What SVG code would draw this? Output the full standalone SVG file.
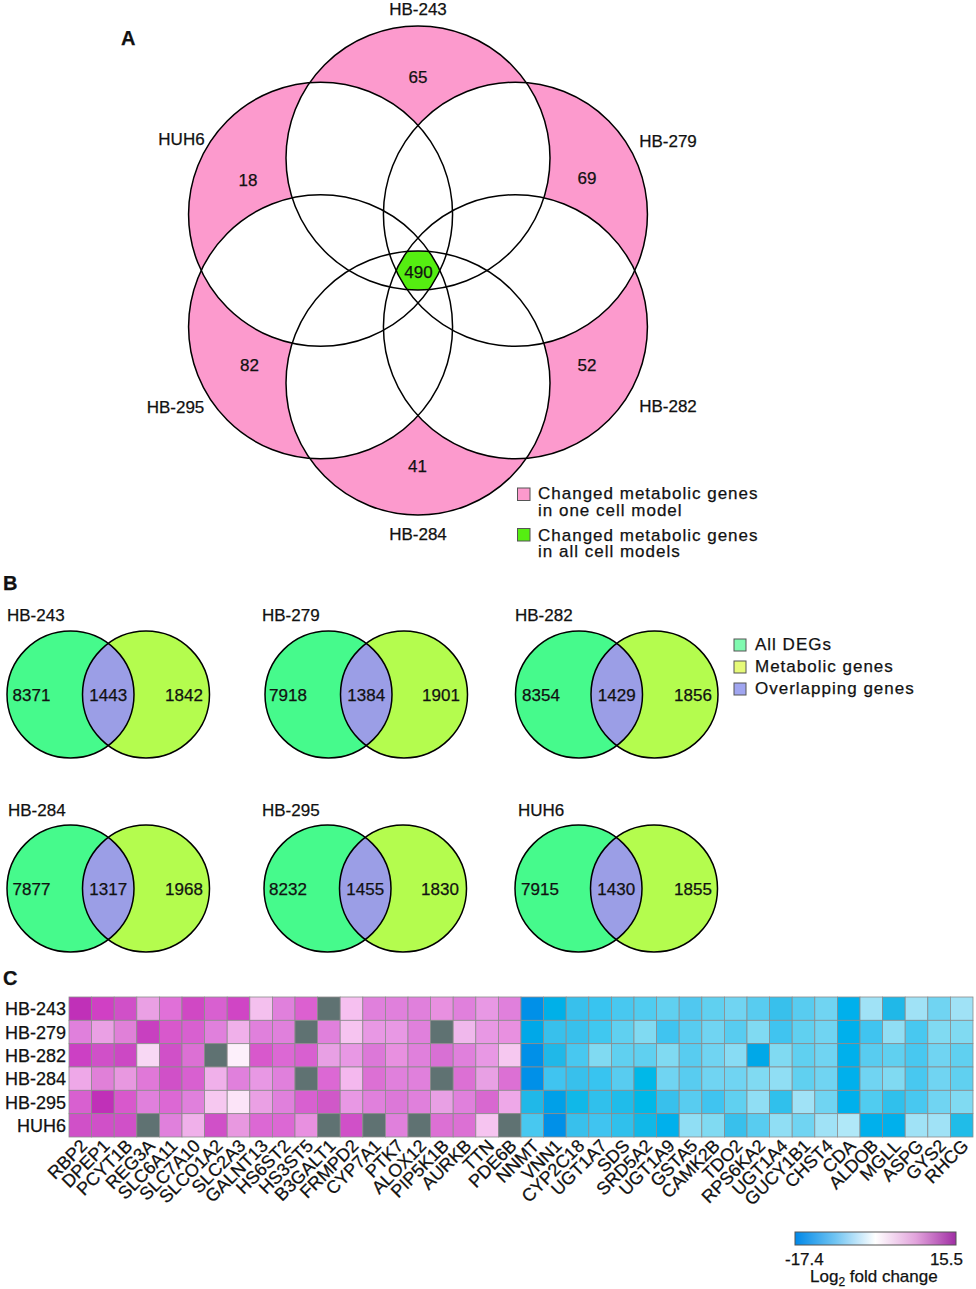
<svg xmlns="http://www.w3.org/2000/svg" width="976" height="1289" viewBox="0 0 976 1289">
<style>
text{font-family:"Liberation Sans",Arial,sans-serif;fill:#111;stroke:#111;stroke-width:0.25}
.pl{font-size:20px;font-weight:bold}
.lb{font-size:17px}
.mid{text-anchor:middle}
.num{font-size:17px;text-anchor:middle}
.leg{font-size:17px;letter-spacing:1px}
.row{font-size:18px;text-anchor:end}
.col{font-size:18px;text-anchor:end}
.ol{fill:none;stroke:#000;stroke-width:1.5}
.hm rect{stroke:#8c8c8c;stroke-width:0.8}
.cL{fill:#46fa8c}
.cR{fill:#b4fc4e}
.lens{fill:#9b9ee6}
.sq{stroke:#555;stroke-width:1}
</style>
<defs>
<clipPath id="a0"><circle cx="418" cy="158" r="132"/></clipPath>
<clipPath id="a1"><circle cx="515.43" cy="214.25" r="132"/></clipPath>
<clipPath id="a2"><circle cx="515.43" cy="326.75" r="132"/></clipPath>
<clipPath id="a3"><circle cx="418" cy="383" r="132"/></clipPath>
<clipPath id="a4"><circle cx="320.57" cy="326.75" r="132"/></clipPath>
<clipPath id="a5"><circle cx="320.57" cy="214.25" r="132"/></clipPath>
<linearGradient id="cb" x1="0" y1="0" x2="1" y2="0">
<stop offset="0" stop-color="#0088e8"/>
<stop offset="0.25" stop-color="#70c4f2"/>
<stop offset="0.5" stop-color="#ffffff"/>
<stop offset="0.75" stop-color="#e2a4dc"/>
<stop offset="1" stop-color="#a02ea4"/>
</linearGradient>
<g id="vb">
<circle class="cL" cx="0" cy="0" r="63.5"/>
<circle class="cR" cx="75.5" cy="0" r="63.5"/>
<path class="lens" d="M37.75,-51.06 A63.5,63.5 0 0 1 37.75,51.06 A63.5,63.5 0 0 1 37.75,-51.06 Z"/>
<circle class="ol" cx="0" cy="0" r="63.5"/>
<circle class="ol" cx="75.5" cy="0" r="63.5"/>
</g>
</defs>
<rect width="976" height="1289" fill="#fff"/>

<!-- Panel A -->
<text class="pl" x="121" y="45">A</text>
<g id="venn-a">
<g fill="#fc9acd">
<circle cx="418" cy="158" r="132"/>
<circle cx="515.43" cy="214.25" r="132"/>
<circle cx="515.43" cy="326.75" r="132"/>
<circle cx="418" cy="383" r="132"/>
<circle cx="320.57" cy="326.75" r="132"/>
<circle cx="320.57" cy="214.25" r="132"/>
</g>
<g fill="#fff">
<g clip-path="url(#a0)">
<circle cx="515.43" cy="214.25" r="132"/><circle cx="515.43" cy="326.75" r="132"/><circle cx="418" cy="383" r="132"/><circle cx="320.57" cy="326.75" r="132"/><circle cx="320.57" cy="214.25" r="132"/>
</g>
<g clip-path="url(#a1)">
<circle cx="515.43" cy="326.75" r="132"/><circle cx="418" cy="383" r="132"/><circle cx="320.57" cy="326.75" r="132"/><circle cx="320.57" cy="214.25" r="132"/>
</g>
<g clip-path="url(#a2)">
<circle cx="418" cy="383" r="132"/><circle cx="320.57" cy="326.75" r="132"/><circle cx="320.57" cy="214.25" r="132"/>
</g>
<g clip-path="url(#a3)">
<circle cx="320.57" cy="326.75" r="132"/><circle cx="320.57" cy="214.25" r="132"/>
</g>
<g clip-path="url(#a4)">
<circle cx="320.57" cy="214.25" r="132"/>
</g>
</g>
<g id="core" clip-path="url(#a0)"><g clip-path="url(#a1)"><g clip-path="url(#a2)"><g clip-path="url(#a3)"><g clip-path="url(#a4)"><g clip-path="url(#a5)">
<rect x="370" y="220" width="100" height="100" fill="#55ee11"/>
</g></g></g></g></g></g>
<g class="ol">
<circle cx="418" cy="158" r="132"/>
<circle cx="515.43" cy="214.25" r="132"/>
<circle cx="515.43" cy="326.75" r="132"/>
<circle cx="418" cy="383" r="132"/>
<circle cx="320.57" cy="326.75" r="132"/>
<circle cx="320.57" cy="214.25" r="132"/>
</g>
</g>
<g id="venn-a-labels">
<text class="lb mid" x="418" y="15">HB-243</text>
<text class="lb mid" x="668" y="147">HB-279</text>
<text class="lb mid" x="668" y="411.5">HB-282</text>
<text class="lb mid" x="418" y="540">HB-284</text>
<text class="lb mid" x="175.5" y="412.5">HB-295</text>
<text class="lb mid" x="181.5" y="145">HUH6</text>
<text class="num" x="418" y="83.3">65</text>
<text class="num" x="587" y="184">69</text>
<text class="num" x="587" y="370.5">52</text>
<text class="num" x="417.5" y="472">41</text>
<text class="num" x="249.5" y="371">82</text>
<text class="num" x="248" y="186">18</text>
<text class="num" x="418.5" y="278">490</text>
</g>
<g id="legend-a">
<rect class="sq" x="517.5" y="488" width="12.5" height="12.5" fill="#fc9acd"/>
<text class="leg" x="538" y="499.3">Changed metabolic genes<tspan x="538" dy="16.4">in one cell model</tspan></text>
<rect class="sq" x="517.5" y="528.5" width="12.5" height="12.5" fill="#55ee11"/>
<text class="leg" x="538" y="540.7">Changed metabolic genes<tspan x="538" dy="15.8">in all cell models</tspan></text>
</g>

<!-- Panel B -->
<text class="pl" x="3" y="590">B</text>
<g id="vb-hb243">
<use href="#vb" transform="translate(70.5,694.5)"/>
<text class="lb" x="7" y="621">HB-243</text>
<text class="num" x="31.5" y="701">8371</text>
<text class="num" x="108.25" y="701">1443</text>
<text class="num" x="184" y="701">1842</text>
</g>
<g id="vb-hb279">
<use href="#vb" transform="translate(328.5,694.5)"/>
<text class="lb" x="262" y="621">HB-279</text>
<text class="num" x="288" y="701">7918</text>
<text class="num" x="366.25" y="701">1384</text>
<text class="num" x="441" y="701">1901</text>
</g>
<g id="vb-hb282">
<use href="#vb" transform="translate(579,694.5)"/>
<text class="lb" x="515" y="621">HB-282</text>
<text class="num" x="541" y="701">8354</text>
<text class="num" x="616.75" y="701">1429</text>
<text class="num" x="693" y="701">1856</text>
</g>
<g id="vb-hb284">
<use href="#vb" transform="translate(70.5,888.5)"/>
<text class="lb" x="8" y="816">HB-284</text>
<text class="num" x="31.5" y="895">7877</text>
<text class="num" x="108.25" y="895">1317</text>
<text class="num" x="184" y="895">1968</text>
</g>
<g id="vb-hb295">
<use href="#vb" transform="translate(327.5,888.5)"/>
<text class="lb" x="262" y="816">HB-295</text>
<text class="num" x="288" y="895">8232</text>
<text class="num" x="365.25" y="895">1455</text>
<text class="num" x="440" y="895">1830</text>
</g>
<g id="vb-huh6">
<use href="#vb" transform="translate(578.5,888.5)"/>
<text class="lb" x="518" y="816">HUH6</text>
<text class="num" x="540" y="895">7915</text>
<text class="num" x="616.25" y="895">1430</text>
<text class="num" x="693" y="895">1855</text>
</g>
<g id="legend-b">
<rect class="sq" x="734" y="639" width="12" height="12" fill="#80fab0"/>
<text class="leg" x="755" y="650">All DEGs</text>
<rect class="sq" x="734" y="661" width="12" height="12" fill="#e6fa78"/>
<text class="leg" x="755" y="672">Metabolic genes</text>
<rect class="sq" x="734" y="683" width="12" height="12" fill="#a0a5f0"/>
<text class="leg" x="755" y="694">Overlapping genes</text>
</g>

<!-- Panel C -->
<text class="pl" x="3" y="985">C</text>
<g id="row-labels">
<text class="row" x="66" y="1015.2">HB-243</text>
<text class="row" x="66" y="1038.5">HB-279</text>
<text class="row" x="66" y="1061.8">HB-282</text>
<text class="row" x="66" y="1085.2">HB-284</text>
<text class="row" x="66" y="1108.5">HB-295</text>
<text class="row" x="66" y="1131.8">HUH6</text>
</g>
<g id="heatmap" class="hm">
<g transform="translate(0,997)">
<rect x="69" y="0" width="22.6" height="23.33" fill="#c030b8"/>
<rect x="91.6" y="0" width="22.6" height="23.33" fill="#d040c4"/>
<rect x="114.2" y="0" width="22.6" height="23.33" fill="#d050c8"/>
<rect x="136.8" y="0" width="22.6" height="23.33" fill="#eaa0e4"/>
<rect x="159.4" y="0" width="22.6" height="23.33" fill="#e070d8"/>
<rect x="182" y="0" width="22.6" height="23.33" fill="#d048c4"/>
<rect x="204.6" y="0" width="22.6" height="23.33" fill="#d860d0"/>
<rect x="227.2" y="0" width="22.6" height="23.33" fill="#d045c5"/>
<rect x="249.8" y="0" width="22.6" height="23.33" fill="#f4c0ee"/>
<rect x="272.4" y="0" width="22.6" height="23.33" fill="#e080dc"/>
<rect x="295" y="0" width="22.6" height="23.33" fill="#dc60d0"/>
<rect x="317.6" y="0" width="22.6" height="23.33" fill="#5f7272"/>
<rect x="340.2" y="0" width="22.6" height="23.33" fill="#f6c0f0"/>
<rect x="362.8" y="0" width="22.6" height="23.33" fill="#e080dc"/>
<rect x="385.4" y="0" width="22.6" height="23.33" fill="#e080dc"/>
<rect x="408" y="0" width="22.6" height="23.33" fill="#e080dc"/>
<rect x="430.6" y="0" width="22.6" height="23.33" fill="#e890e0"/>
<rect x="453.2" y="0" width="22.6" height="23.33" fill="#e080dc"/>
<rect x="475.8" y="0" width="22.6" height="23.33" fill="#e898e4"/>
<rect x="498.4" y="0" width="22.6" height="23.33" fill="#e080dc"/>
<rect x="521" y="0" width="22.6" height="23.33" fill="#0090e8"/>
<rect x="543.6" y="0" width="22.6" height="23.33" fill="#00b0e8"/>
<rect x="566.2" y="0" width="22.6" height="23.33" fill="#38c0ec"/>
<rect x="588.8" y="0" width="22.6" height="23.33" fill="#38c4f0"/>
<rect x="611.4" y="0" width="22.6" height="23.33" fill="#48c8f0"/>
<rect x="634" y="0" width="22.6" height="23.33" fill="#50ccf0"/>
<rect x="656.6" y="0" width="22.6" height="23.33" fill="#60d0f0"/>
<rect x="679.2" y="0" width="22.6" height="23.33" fill="#50c8f0"/>
<rect x="701.8" y="0" width="22.6" height="23.33" fill="#60d0f0"/>
<rect x="724.4" y="0" width="22.6" height="23.33" fill="#70d4f2"/>
<rect x="747" y="0" width="22.6" height="23.33" fill="#58ccf0"/>
<rect x="769.6" y="0" width="22.6" height="23.33" fill="#38c0ec"/>
<rect x="792.2" y="0" width="22.6" height="23.33" fill="#58ccf0"/>
<rect x="814.8" y="0" width="22.6" height="23.33" fill="#70d4f2"/>
<rect x="837.4" y="0" width="22.6" height="23.33" fill="#00b0ec"/>
<rect x="860" y="0" width="22.6" height="23.33" fill="#a0e2f6"/>
<rect x="882.6" y="0" width="22.6" height="23.33" fill="#20b8e8"/>
<rect x="905.2" y="0" width="22.6" height="23.33" fill="#a0e2f6"/>
<rect x="927.8" y="0" width="22.6" height="23.33" fill="#70d4f2"/>
<rect x="950.4" y="0" width="22.6" height="23.33" fill="#a0e2f6"/>
</g>
<g transform="translate(0,1020.33)">
<rect x="69" y="0" width="22.6" height="23.33" fill="#e080dc"/>
<rect x="91.6" y="0" width="22.6" height="23.33" fill="#eaa0e4"/>
<rect x="114.2" y="0" width="22.6" height="23.33" fill="#e080d8"/>
<rect x="136.8" y="0" width="22.6" height="23.33" fill="#c840c0"/>
<rect x="159.4" y="0" width="22.6" height="23.33" fill="#d858cc"/>
<rect x="182" y="0" width="22.6" height="23.33" fill="#d860d0"/>
<rect x="204.6" y="0" width="22.6" height="23.33" fill="#e080dc"/>
<rect x="227.2" y="0" width="22.6" height="23.33" fill="#f0b0ea"/>
<rect x="249.8" y="0" width="22.6" height="23.33" fill="#e080dc"/>
<rect x="272.4" y="0" width="22.6" height="23.33" fill="#e080dc"/>
<rect x="295" y="0" width="22.6" height="23.33" fill="#5f7272"/>
<rect x="317.6" y="0" width="22.6" height="23.33" fill="#e080dc"/>
<rect x="340.2" y="0" width="22.6" height="23.33" fill="#f6c4f0"/>
<rect x="362.8" y="0" width="22.6" height="23.33" fill="#e898e4"/>
<rect x="385.4" y="0" width="22.6" height="23.33" fill="#e898e4"/>
<rect x="408" y="0" width="22.6" height="23.33" fill="#e080dc"/>
<rect x="430.6" y="0" width="22.6" height="23.33" fill="#5f7272"/>
<rect x="453.2" y="0" width="22.6" height="23.33" fill="#f0b8ec"/>
<rect x="475.8" y="0" width="22.6" height="23.33" fill="#e898e4"/>
<rect x="498.4" y="0" width="22.6" height="23.33" fill="#e890e0"/>
<rect x="521" y="0" width="22.6" height="23.33" fill="#00a8e8"/>
<rect x="543.6" y="0" width="22.6" height="23.33" fill="#38c0ec"/>
<rect x="566.2" y="0" width="22.6" height="23.33" fill="#38c0ec"/>
<rect x="588.8" y="0" width="22.6" height="23.33" fill="#40c8f0"/>
<rect x="611.4" y="0" width="22.6" height="23.33" fill="#60d0f0"/>
<rect x="634" y="0" width="22.6" height="23.33" fill="#80daf2"/>
<rect x="656.6" y="0" width="22.6" height="23.33" fill="#40c4f0"/>
<rect x="679.2" y="0" width="22.6" height="23.33" fill="#58ccf0"/>
<rect x="701.8" y="0" width="22.6" height="23.33" fill="#70d4f2"/>
<rect x="724.4" y="0" width="22.6" height="23.33" fill="#58ccf0"/>
<rect x="747" y="0" width="22.6" height="23.33" fill="#80daf2"/>
<rect x="769.6" y="0" width="22.6" height="23.33" fill="#40c4f0"/>
<rect x="792.2" y="0" width="22.6" height="23.33" fill="#60d0f0"/>
<rect x="814.8" y="0" width="22.6" height="23.33" fill="#70d4f2"/>
<rect x="837.4" y="0" width="22.6" height="23.33" fill="#00b0ec"/>
<rect x="860" y="0" width="22.6" height="23.33" fill="#40c4f0"/>
<rect x="882.6" y="0" width="22.6" height="23.33" fill="#90def4"/>
<rect x="905.2" y="0" width="22.6" height="23.33" fill="#48c8f0"/>
<rect x="927.8" y="0" width="22.6" height="23.33" fill="#80daf2"/>
<rect x="950.4" y="0" width="22.6" height="23.33" fill="#80daf2"/>
</g>
<g transform="translate(0,1043.67)">
<rect x="69" y="0" width="22.6" height="23.33" fill="#cc40c4"/>
<rect x="91.6" y="0" width="22.6" height="23.33" fill="#d050c8"/>
<rect x="114.2" y="0" width="22.6" height="23.33" fill="#cc48c4"/>
<rect x="136.8" y="0" width="22.6" height="23.33" fill="#f8d8f4"/>
<rect x="159.4" y="0" width="22.6" height="23.33" fill="#d050c8"/>
<rect x="182" y="0" width="22.6" height="23.33" fill="#dc70d4"/>
<rect x="204.6" y="0" width="22.6" height="23.33" fill="#5f7272"/>
<rect x="227.2" y="0" width="22.6" height="23.33" fill="#fdf0fb"/>
<rect x="249.8" y="0" width="22.6" height="23.33" fill="#d858cc"/>
<rect x="272.4" y="0" width="22.6" height="23.33" fill="#dc68d4"/>
<rect x="295" y="0" width="22.6" height="23.33" fill="#d860d0"/>
<rect x="317.6" y="0" width="22.6" height="23.33" fill="#e8a0e4"/>
<rect x="340.2" y="0" width="22.6" height="23.33" fill="#e898e4"/>
<rect x="362.8" y="0" width="22.6" height="23.33" fill="#dc78d8"/>
<rect x="385.4" y="0" width="22.6" height="23.33" fill="#e890e0"/>
<rect x="408" y="0" width="22.6" height="23.33" fill="#e080dc"/>
<rect x="430.6" y="0" width="22.6" height="23.33" fill="#d870d4"/>
<rect x="453.2" y="0" width="22.6" height="23.33" fill="#e080dc"/>
<rect x="475.8" y="0" width="22.6" height="23.33" fill="#e898e4"/>
<rect x="498.4" y="0" width="22.6" height="23.33" fill="#f6c8f0"/>
<rect x="521" y="0" width="22.6" height="23.33" fill="#0090e8"/>
<rect x="543.6" y="0" width="22.6" height="23.33" fill="#20b8e8"/>
<rect x="566.2" y="0" width="22.6" height="23.33" fill="#48c8f0"/>
<rect x="588.8" y="0" width="22.6" height="23.33" fill="#80daf2"/>
<rect x="611.4" y="0" width="22.6" height="23.33" fill="#60d0f0"/>
<rect x="634" y="0" width="22.6" height="23.33" fill="#60d0f0"/>
<rect x="656.6" y="0" width="22.6" height="23.33" fill="#80daf2"/>
<rect x="679.2" y="0" width="22.6" height="23.33" fill="#58ccf0"/>
<rect x="701.8" y="0" width="22.6" height="23.33" fill="#70d4f2"/>
<rect x="724.4" y="0" width="22.6" height="23.33" fill="#88dcf4"/>
<rect x="747" y="0" width="22.6" height="23.33" fill="#00a8e8"/>
<rect x="769.6" y="0" width="22.6" height="23.33" fill="#80daf2"/>
<rect x="792.2" y="0" width="22.6" height="23.33" fill="#60d0f0"/>
<rect x="814.8" y="0" width="22.6" height="23.33" fill="#70d4f2"/>
<rect x="837.4" y="0" width="22.6" height="23.33" fill="#00b0ec"/>
<rect x="860" y="0" width="22.6" height="23.33" fill="#58ccf0"/>
<rect x="882.6" y="0" width="22.6" height="23.33" fill="#60d0f0"/>
<rect x="905.2" y="0" width="22.6" height="23.33" fill="#48c8f0"/>
<rect x="927.8" y="0" width="22.6" height="23.33" fill="#70d4f2"/>
<rect x="950.4" y="0" width="22.6" height="23.33" fill="#60d0f0"/>
</g>
<g transform="translate(0,1067)">
<rect x="69" y="0" width="22.6" height="23.33" fill="#eea8e8"/>
<rect x="91.6" y="0" width="22.6" height="23.33" fill="#e080d8"/>
<rect x="114.2" y="0" width="22.6" height="23.33" fill="#e898e0"/>
<rect x="136.8" y="0" width="22.6" height="23.33" fill="#e078d8"/>
<rect x="159.4" y="0" width="22.6" height="23.33" fill="#d050c8"/>
<rect x="182" y="0" width="22.6" height="23.33" fill="#d860d0"/>
<rect x="204.6" y="0" width="22.6" height="23.33" fill="#f0b0ea"/>
<rect x="227.2" y="0" width="22.6" height="23.33" fill="#e080dc"/>
<rect x="249.8" y="0" width="22.6" height="23.33" fill="#e898e4"/>
<rect x="272.4" y="0" width="22.6" height="23.33" fill="#e080dc"/>
<rect x="295" y="0" width="22.6" height="23.33" fill="#5f7272"/>
<rect x="317.6" y="0" width="22.6" height="23.33" fill="#dc68d4"/>
<rect x="340.2" y="0" width="22.6" height="23.33" fill="#f4b8ee"/>
<rect x="362.8" y="0" width="22.6" height="23.33" fill="#dc70d4"/>
<rect x="385.4" y="0" width="22.6" height="23.33" fill="#e080dc"/>
<rect x="408" y="0" width="22.6" height="23.33" fill="#e080dc"/>
<rect x="430.6" y="0" width="22.6" height="23.33" fill="#5f7272"/>
<rect x="453.2" y="0" width="22.6" height="23.33" fill="#dc70d4"/>
<rect x="475.8" y="0" width="22.6" height="23.33" fill="#e8a0e4"/>
<rect x="498.4" y="0" width="22.6" height="23.33" fill="#dc70d4"/>
<rect x="521" y="0" width="22.6" height="23.33" fill="#0090e8"/>
<rect x="543.6" y="0" width="22.6" height="23.33" fill="#40c4f0"/>
<rect x="566.2" y="0" width="22.6" height="23.33" fill="#38c0ec"/>
<rect x="588.8" y="0" width="22.6" height="23.33" fill="#38c4f0"/>
<rect x="611.4" y="0" width="22.6" height="23.33" fill="#58ccf0"/>
<rect x="634" y="0" width="22.6" height="23.33" fill="#00b8e8"/>
<rect x="656.6" y="0" width="22.6" height="23.33" fill="#70d4f2"/>
<rect x="679.2" y="0" width="22.6" height="23.33" fill="#58ccf0"/>
<rect x="701.8" y="0" width="22.6" height="23.33" fill="#70d4f2"/>
<rect x="724.4" y="0" width="22.6" height="23.33" fill="#70d4f2"/>
<rect x="747" y="0" width="22.6" height="23.33" fill="#80daf2"/>
<rect x="769.6" y="0" width="22.6" height="23.33" fill="#90def4"/>
<rect x="792.2" y="0" width="22.6" height="23.33" fill="#60d0f0"/>
<rect x="814.8" y="0" width="22.6" height="23.33" fill="#70d4f2"/>
<rect x="837.4" y="0" width="22.6" height="23.33" fill="#00b0ec"/>
<rect x="860" y="0" width="22.6" height="23.33" fill="#70d4f2"/>
<rect x="882.6" y="0" width="22.6" height="23.33" fill="#80daf2"/>
<rect x="905.2" y="0" width="22.6" height="23.33" fill="#48c8f0"/>
<rect x="927.8" y="0" width="22.6" height="23.33" fill="#70d4f2"/>
<rect x="950.4" y="0" width="22.6" height="23.33" fill="#60d0f0"/>
</g>
<g transform="translate(0,1090.33)">
<rect x="69" y="0" width="22.6" height="23.33" fill="#d860d0"/>
<rect x="91.6" y="0" width="22.6" height="23.33" fill="#c030b8"/>
<rect x="114.2" y="0" width="22.6" height="23.33" fill="#d858cc"/>
<rect x="136.8" y="0" width="22.6" height="23.33" fill="#e080dc"/>
<rect x="159.4" y="0" width="22.6" height="23.33" fill="#dc68d4"/>
<rect x="182" y="0" width="22.6" height="23.33" fill="#e080dc"/>
<rect x="204.6" y="0" width="22.6" height="23.33" fill="#f6c8f0"/>
<rect x="227.2" y="0" width="22.6" height="23.33" fill="#fce4f8"/>
<rect x="249.8" y="0" width="22.6" height="23.33" fill="#eaa0e4"/>
<rect x="272.4" y="0" width="22.6" height="23.33" fill="#e080dc"/>
<rect x="295" y="0" width="22.6" height="23.33" fill="#d860d0"/>
<rect x="317.6" y="0" width="22.6" height="23.33" fill="#d058c8"/>
<rect x="340.2" y="0" width="22.6" height="23.33" fill="#e898e4"/>
<rect x="362.8" y="0" width="22.6" height="23.33" fill="#e080dc"/>
<rect x="385.4" y="0" width="22.6" height="23.33" fill="#dc78d8"/>
<rect x="408" y="0" width="22.6" height="23.33" fill="#e080dc"/>
<rect x="430.6" y="0" width="22.6" height="23.33" fill="#e8a0e4"/>
<rect x="453.2" y="0" width="22.6" height="23.33" fill="#e080dc"/>
<rect x="475.8" y="0" width="22.6" height="23.33" fill="#d868d0"/>
<rect x="498.4" y="0" width="22.6" height="23.33" fill="#eea8e8"/>
<rect x="521" y="0" width="22.6" height="23.33" fill="#20b8e8"/>
<rect x="543.6" y="0" width="22.6" height="23.33" fill="#00a0e8"/>
<rect x="566.2" y="0" width="22.6" height="23.33" fill="#10b8e8"/>
<rect x="588.8" y="0" width="22.6" height="23.33" fill="#30c0ec"/>
<rect x="611.4" y="0" width="22.6" height="23.33" fill="#20bcea"/>
<rect x="634" y="0" width="22.6" height="23.33" fill="#00b8e8"/>
<rect x="656.6" y="0" width="22.6" height="23.33" fill="#38c0ec"/>
<rect x="679.2" y="0" width="22.6" height="23.33" fill="#58ccf0"/>
<rect x="701.8" y="0" width="22.6" height="23.33" fill="#40c4f0"/>
<rect x="724.4" y="0" width="22.6" height="23.33" fill="#60d0f0"/>
<rect x="747" y="0" width="22.6" height="23.33" fill="#90def4"/>
<rect x="769.6" y="0" width="22.6" height="23.33" fill="#30c0ec"/>
<rect x="792.2" y="0" width="22.6" height="23.33" fill="#a0e2f6"/>
<rect x="814.8" y="0" width="22.6" height="23.33" fill="#70d4f2"/>
<rect x="837.4" y="0" width="22.6" height="23.33" fill="#00b0ec"/>
<rect x="860" y="0" width="22.6" height="23.33" fill="#50ccf0"/>
<rect x="882.6" y="0" width="22.6" height="23.33" fill="#30c0ec"/>
<rect x="905.2" y="0" width="22.6" height="23.33" fill="#48c8f0"/>
<rect x="927.8" y="0" width="22.6" height="23.33" fill="#70d4f2"/>
<rect x="950.4" y="0" width="22.6" height="23.33" fill="#80daf2"/>
</g>
<g transform="translate(0,1113.67)">
<rect x="69" y="0" width="22.6" height="23.33" fill="#d050c8"/>
<rect x="91.6" y="0" width="22.6" height="23.33" fill="#d050c8"/>
<rect x="114.2" y="0" width="22.6" height="23.33" fill="#d050c8"/>
<rect x="136.8" y="0" width="22.6" height="23.33" fill="#5f7272"/>
<rect x="159.4" y="0" width="22.6" height="23.33" fill="#e080dc"/>
<rect x="182" y="0" width="22.6" height="23.33" fill="#f0b0ea"/>
<rect x="204.6" y="0" width="22.6" height="23.33" fill="#d050c8"/>
<rect x="227.2" y="0" width="22.6" height="23.33" fill="#e898e0"/>
<rect x="249.8" y="0" width="22.6" height="23.33" fill="#dc68d4"/>
<rect x="272.4" y="0" width="22.6" height="23.33" fill="#dc68d4"/>
<rect x="295" y="0" width="22.6" height="23.33" fill="#e890e0"/>
<rect x="317.6" y="0" width="22.6" height="23.33" fill="#5f7272"/>
<rect x="340.2" y="0" width="22.6" height="23.33" fill="#d050c8"/>
<rect x="362.8" y="0" width="22.6" height="23.33" fill="#5f7272"/>
<rect x="385.4" y="0" width="22.6" height="23.33" fill="#e080dc"/>
<rect x="408" y="0" width="22.6" height="23.33" fill="#5f7272"/>
<rect x="430.6" y="0" width="22.6" height="23.33" fill="#dc70d4"/>
<rect x="453.2" y="0" width="22.6" height="23.33" fill="#dc70d4"/>
<rect x="475.8" y="0" width="22.6" height="23.33" fill="#f6c4f0"/>
<rect x="498.4" y="0" width="22.6" height="23.33" fill="#5f7272"/>
<rect x="521" y="0" width="22.6" height="23.33" fill="#48c8f0"/>
<rect x="543.6" y="0" width="22.6" height="23.33" fill="#0090e8"/>
<rect x="566.2" y="0" width="22.6" height="23.33" fill="#38c0ec"/>
<rect x="588.8" y="0" width="22.6" height="23.33" fill="#40c4f0"/>
<rect x="611.4" y="0" width="22.6" height="23.33" fill="#30c0ec"/>
<rect x="634" y="0" width="22.6" height="23.33" fill="#10b8e8"/>
<rect x="656.6" y="0" width="22.6" height="23.33" fill="#00b0ec"/>
<rect x="679.2" y="0" width="22.6" height="23.33" fill="#90def4"/>
<rect x="701.8" y="0" width="22.6" height="23.33" fill="#80daf2"/>
<rect x="724.4" y="0" width="22.6" height="23.33" fill="#38c0ec"/>
<rect x="747" y="0" width="22.6" height="23.33" fill="#58ccf0"/>
<rect x="769.6" y="0" width="22.6" height="23.33" fill="#90def4"/>
<rect x="792.2" y="0" width="22.6" height="23.33" fill="#70d4f2"/>
<rect x="814.8" y="0" width="22.6" height="23.33" fill="#a0e2f6"/>
<rect x="837.4" y="0" width="22.6" height="23.33" fill="#b0e8f8"/>
<rect x="860" y="0" width="22.6" height="23.33" fill="#00b0ec"/>
<rect x="882.6" y="0" width="22.6" height="23.33" fill="#00b0ec"/>
<rect x="905.2" y="0" width="22.6" height="23.33" fill="#a0e2f6"/>
<rect x="927.8" y="0" width="22.6" height="23.33" fill="#a0e2f6"/>
<rect x="950.4" y="0" width="22.6" height="23.33" fill="#20bce8"/>
</g>
</g>
<g id="col-labels">
<text class="col" transform="translate(88.3,1147) rotate(-45)">RBP2</text>
<text class="col" transform="translate(110.9,1147) rotate(-45)">DPEP1</text>
<text class="col" transform="translate(133.5,1147) rotate(-45)">PCYT1B</text>
<text class="col" transform="translate(156.1,1147) rotate(-45)">REG3A</text>
<text class="col" transform="translate(178.7,1147) rotate(-45)">SLC6A11</text>
<text class="col" transform="translate(201.3,1147) rotate(-45)">SLC7A10</text>
<text class="col" transform="translate(223.9,1147) rotate(-45)">SLCO1A2</text>
<text class="col" transform="translate(246.5,1147) rotate(-45)">SLC2A3</text>
<text class="col" transform="translate(269.1,1147) rotate(-45)">GALNT13</text>
<text class="col" transform="translate(291.7,1147) rotate(-45)">HS6ST2</text>
<text class="col" transform="translate(314.3,1147) rotate(-45)">HS3ST5</text>
<text class="col" transform="translate(336.9,1147) rotate(-45)">B3GALT1</text>
<text class="col" transform="translate(359.5,1147) rotate(-45)">FRMPD2</text>
<text class="col" transform="translate(382.1,1147) rotate(-45)">CYP7A1</text>
<text class="col" transform="translate(404.7,1147) rotate(-45)">PTK7</text>
<text class="col" transform="translate(427.3,1147) rotate(-45)">ALOX12</text>
<text class="col" transform="translate(449.9,1147) rotate(-45)">PIP5K1B</text>
<text class="col" transform="translate(472.5,1147) rotate(-45)">AURKB</text>
<text class="col" transform="translate(495.1,1147) rotate(-45)">TTN</text>
<text class="col" transform="translate(517.7,1147) rotate(-45)">PDE6B</text>
<text class="col" transform="translate(540.3,1147) rotate(-45)">NNMT</text>
<text class="col" transform="translate(562.9,1147) rotate(-45)">VNN1</text>
<text class="col" transform="translate(585.5,1147) rotate(-45)">CYP2C18</text>
<text class="col" transform="translate(608.1,1147) rotate(-45)">UGT1A7</text>
<text class="col" transform="translate(630.7,1147) rotate(-45)">SDS</text>
<text class="col" transform="translate(653.3,1147) rotate(-45)">SRD5A2</text>
<text class="col" transform="translate(675.9,1147) rotate(-45)">UGT1A9</text>
<text class="col" transform="translate(698.5,1147) rotate(-45)">GSTA5</text>
<text class="col" transform="translate(721.1,1147) rotate(-45)">CAMK2B</text>
<text class="col" transform="translate(743.7,1147) rotate(-45)">TDO2</text>
<text class="col" transform="translate(766.3,1147) rotate(-45)">RPS6KA2</text>
<text class="col" transform="translate(788.9,1147) rotate(-45)">UGT1A4</text>
<text class="col" transform="translate(811.5,1147) rotate(-45)">GUCY1B1</text>
<text class="col" transform="translate(834.1,1147) rotate(-45)">CHST4</text>
<text class="col" transform="translate(856.7,1147) rotate(-45)">CDA</text>
<text class="col" transform="translate(879.3,1147) rotate(-45)">ALDOB</text>
<text class="col" transform="translate(901.9,1147) rotate(-45)">MGLL</text>
<text class="col" transform="translate(924.5,1147) rotate(-45)">ASPG</text>
<text class="col" transform="translate(947.1,1147) rotate(-45)">GYS2</text>
<text class="col" transform="translate(969.7,1147) rotate(-45)">RHCG</text>
</g>
<g id="colorbar">
<rect x="795" y="1232" width="161" height="13" fill="url(#cb)" stroke="#555" stroke-width="1"/>
<text class="lb" x="785" y="1265">-17.4</text>
<text class="lb" x="963" y="1265" text-anchor="end">15.5</text>
<text class="lb" x="810" y="1281.5">Log<tspan font-size="12" dy="4">2</tspan><tspan dy="-4"> fold change</tspan></text>
</g>
</svg>
